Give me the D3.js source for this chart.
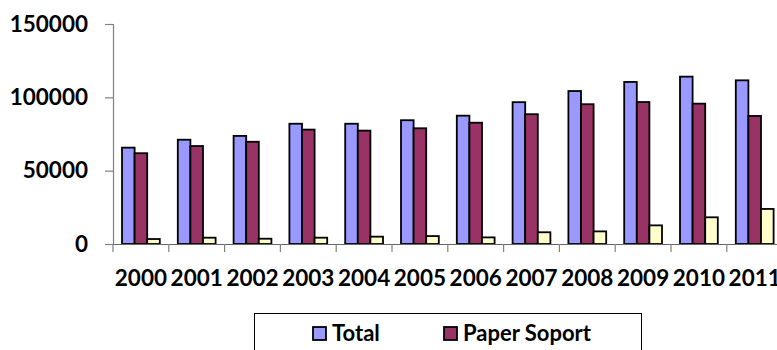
<!DOCTYPE html>
<html>
<head>
<meta charset="utf-8">
<script src="https://cdn.jsdelivr.net/npm/d3@7"></script>
<style>
  html, body { margin: 0; padding: 0; background: #fff; }
  svg { display: block; }
  text { font-family: Lato, "Open Sans", sans-serif; font-weight: 700; fill: #000; }
</style>
</head>
<body>
<svg id="chart" width="777" height="350"></svg>
<script>
const years = ["2000","2001","2002","2003","2004","2005","2006","2007","2008","2009","2010","2011"];
const seriesNames = ["Total", "Paper Soport", "Electronic Soport"];
const totalValues = [65700, 71100, 73700, 82000, 82000, 84400, 87500, 96700, 104300, 110500, 114100, 111600];
const paperValues = [61900, 66800, 69700, 78000, 77300, 78900, 82700, 88500, 95300, 96800, 95700, 87300];
const electronicValues = [3400, 4300, 3600, 4300, 5000, 5400, 4500, 8000, 8600, 12700, 18200, 23900];
const yTicks = [0, 50000, 100000, 150000];
const colors = ["#9999FF", "#993366", "#FFFFCC"];
const legendShown = ["Total", "Paper Soport"];

const seriesValues = [totalValues, paperValues, electronicValues];
const svg = d3.select("#chart");

const plotLeft = 113, plotTop = 24, plotBottom = 244, band = 55.8;
const x = d3.scaleBand().domain(years).range([plotLeft, plotLeft + band * years.length]).padding(0);
const xs = d3.scaleBand().domain(seriesNames).range([9, band - 9]).padding(0);
const y = d3.scaleLinear().domain([0, 150000]).range([plotBottom, plotTop]);

// bars
years.forEach((yr, i) => {
  const g = svg.append("g").attr("transform", `translate(${x(yr)},0)`);
  seriesNames.forEach((s, j) => {
    const v = seriesValues[j][i];
    g.append("rect")
      .attr("x", xs(s))
      .attr("y", y(v))
      .attr("width", xs.bandwidth())
      .attr("height", y(0) - y(v))
      .attr("fill", colors[j])
      .attr("stroke", "#000")
      .attr("stroke-width", 1.8);
  });
});

// y axis
const yAxis = d3.axisLeft(y).tickValues(yTicks).tickSize(8).tickPadding(17).tickFormat(d3.format("d"));
const yg = svg.append("g").attr("transform", `translate(${plotLeft},0)`).call(yAxis);
yg.select(".domain").attr("stroke", "#808080").attr("stroke-width", 1.2);
yg.selectAll(".tick line").attr("stroke", "#808080").attr("stroke-width", 1.2);
yg.selectAll(".tick text").style("font-size", "22.5px").attr("fill", "#000");

// x axis
const xAxis = d3.axisBottom(x).tickSize(0).tickPadding(26);
const xg = svg.append("g").attr("transform", `translate(0,${plotBottom})`).call(xAxis);
xg.select(".domain").attr("stroke", "#666").attr("stroke-width", 1.2);
xg.selectAll(".tick text").style("font-size", "22.5px").attr("fill", "#000");
// category boundary ticks
xg.selectAll(".bound").data(d3.range(years.length + 1)).enter().append("line")
  .attr("class", "bound")
  .attr("x1", i => plotLeft + i * x.step()).attr("x2", i => plotLeft + i * x.step())
  .attr("y1", 0).attr("y2", 8)
  .attr("stroke", "#808080").attr("stroke-width", 1.2);

// legend
const lg = svg.append("g");
lg.append("rect").attr("x", 254.5).attr("y", 313.5).attr("width", 387).attr("height", 70)
  .attr("fill", "#fff").attr("stroke", "#000").attr("stroke-width", 1);
const legendX = [313, 444];
legendShown.forEach((s, j) => {
  const lx = legendX[j], ly = 327;
  lg.append("rect").attr("x", lx).attr("y", ly).attr("width", 13).attr("height", 13)
    .attr("fill", colors[seriesNames.indexOf(s)]).attr("stroke", "#000").attr("stroke-width", 1.8);
  lg.append("text").attr("x", lx + 19).attr("y", ly + 14).style("font-size", "22px").text(s);
});
</script>
</body>
</html>
